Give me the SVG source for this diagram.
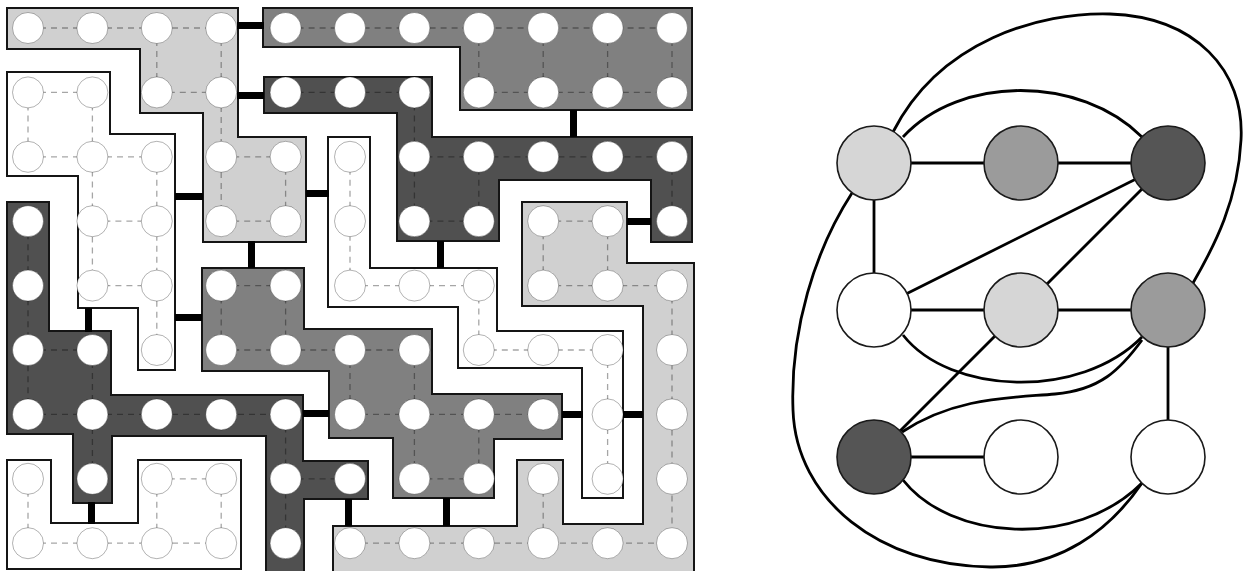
<svg xmlns="http://www.w3.org/2000/svg" width="1245" height="571" viewBox="0 0 1245 571">
<style>
.reg{stroke:#151515;stroke-width:2;stroke-linejoin:miter}
.L{fill:#d0d0d0}.M{fill:#808080}.D{fill:#505050}.W{fill:#ffffff}
.dash{fill:none;stroke:#000;stroke-opacity:.35;stroke-width:1.3;stroke-dasharray:6 5;stroke-dashoffset:-1}
.dot{fill:#fff;stroke:#000;stroke-opacity:.3;stroke-width:1}
.bar{fill:#000}
.edge{fill:none;stroke:#000;stroke-width:2.8}
.gn{stroke:#1a1a1a;stroke-width:1.6}
.gL{fill:#d6d6d6}.gM{fill:#9b9b9b}.gD{fill:#555555}.gW{fill:#ffffff}
</style>
<defs><circle id="c" r="15.5"/></defs>
<rect width="1245" height="571" fill="#fff"/>

<g id="region-L1">
<polygon class="reg L" points="7,8 238,8 238,137 306,137 306,242 203,242 203,113 140,113 140,49 7,49"/>
<path class="dash" d="M28,28H221.2M156.8,92.4H221.2M221.2,156.8H285.6M221.2,221.2H285.6M156.8,28V92.4M221.2,28V221.2M285.6,156.8V221.2"/>
<g class="dot"><use href="#c" x="28" y="28"/><use href="#c" x="92.4" y="28"/><use href="#c" x="156.8" y="28"/><use href="#c" x="221.2" y="28"/><use href="#c" x="156.8" y="92.4"/><use href="#c" x="221.2" y="92.4"/><use href="#c" x="221.2" y="156.8"/><use href="#c" x="285.6" y="156.8"/><use href="#c" x="221.2" y="221.2"/><use href="#c" x="285.6" y="221.2"/></g>
</g>

<g id="region-M1">
<polygon class="reg M" points="263,8 692,8 692,110 460,110 460,47 263,47"/>
<path class="dash" d="M285.6,28H672M478.8,92.4H672M478.8,28V92.4M543.2,28V92.4M607.6,28V92.4M672,28V92.4"/>
<g class="dot"><use href="#c" x="285.6" y="28"/><use href="#c" x="350" y="28"/><use href="#c" x="414.4" y="28"/><use href="#c" x="478.8" y="28"/><use href="#c" x="543.2" y="28"/><use href="#c" x="607.6" y="28"/><use href="#c" x="672" y="28"/><use href="#c" x="478.8" y="92.4"/><use href="#c" x="543.2" y="92.4"/><use href="#c" x="607.6" y="92.4"/><use href="#c" x="672" y="92.4"/></g>
</g>

<g id="region-D1">
<polygon class="reg D" points="264,77 432,77 432,137 692,137 692,242 651,242 651,180 499,180 499,241 397,241 397,113 264,113"/>
<path class="dash" d="M285.6,92.4H414.4M414.4,156.8H672M414.4,221.2H478.8M414.4,92.4V221.2M478.8,156.8V221.2M672,156.8V221.2"/>
<g class="dot"><use href="#c" x="285.6" y="92.4"/><use href="#c" x="350" y="92.4"/><use href="#c" x="414.4" y="92.4"/><use href="#c" x="414.4" y="156.8"/><use href="#c" x="478.8" y="156.8"/><use href="#c" x="543.2" y="156.8"/><use href="#c" x="607.6" y="156.8"/><use href="#c" x="672" y="156.8"/><use href="#c" x="414.4" y="221.2"/><use href="#c" x="478.8" y="221.2"/><use href="#c" x="672" y="221.2"/></g>
</g>

<g id="region-W1">
<polygon class="reg W" points="7,72 110,72 110,134 175,134 175,370 138,370 138,308 78,308 78,176 7,176"/>
<path class="dash" d="M28,92.4H92.4M28,156.8H156.8M92.4,221.2H156.8M92.4,285.6H156.8M28,92.4V156.8M92.4,92.4V285.6M156.8,156.8V350"/>
<g class="dot"><use href="#c" x="28" y="92.4"/><use href="#c" x="92.4" y="92.4"/><use href="#c" x="28" y="156.8"/><use href="#c" x="92.4" y="156.8"/><use href="#c" x="156.8" y="156.8"/><use href="#c" x="92.4" y="221.2"/><use href="#c" x="156.8" y="221.2"/><use href="#c" x="92.4" y="285.6"/><use href="#c" x="156.8" y="285.6"/><use href="#c" x="156.8" y="350"/></g>
</g>

<g id="region-W3">
<polygon class="reg W" points="328,137 370,137 370,268 497,268 497,331 623,331 623,498 582,498 582,368 458,368 458,307 328,307"/>
<path class="dash" d="M350,285.6H478.8M478.8,350H607.6M350,156.8V285.6M478.8,285.6V350M607.6,350V478.8"/>
<g class="dot"><use href="#c" x="350" y="156.8"/><use href="#c" x="350" y="221.2"/><use href="#c" x="350" y="285.6"/><use href="#c" x="414.4" y="285.6"/><use href="#c" x="478.8" y="285.6"/><use href="#c" x="478.8" y="350"/><use href="#c" x="543.2" y="350"/><use href="#c" x="607.6" y="350"/><use href="#c" x="607.6" y="414.4"/><use href="#c" x="607.6" y="478.8"/></g>
</g>

<g id="region-L2">
<polygon class="reg L" points="522,202 627,202 627,263 694,263 694,574 333,574 333,526 517,526 517,460 563,460 563,524 643,524 643,306 522,306"/>
<path class="dash" d="M543.2,221.2H607.6M543.2,285.6H672M350,543.2H672M543.2,221.2V285.6M607.6,221.2V285.6M543.2,478.8V543.2M672,285.6V543.2"/>
<g class="dot"><use href="#c" x="543.2" y="221.2"/><use href="#c" x="607.6" y="221.2"/><use href="#c" x="543.2" y="285.6"/><use href="#c" x="607.6" y="285.6"/><use href="#c" x="672" y="285.6"/><use href="#c" x="672" y="350"/><use href="#c" x="672" y="414.4"/><use href="#c" x="543.2" y="478.8"/><use href="#c" x="672" y="478.8"/><use href="#c" x="350" y="543.2"/><use href="#c" x="414.4" y="543.2"/><use href="#c" x="478.8" y="543.2"/><use href="#c" x="543.2" y="543.2"/><use href="#c" x="607.6" y="543.2"/><use href="#c" x="672" y="543.2"/></g>
</g>

<g id="region-M2">
<polygon class="reg M" points="202,268 304,268 304,329 432,329 432,394 562,394 562,439 494,439 494,498 393,498 393,438 329,438 329,371 202,371"/>
<path class="dash" d="M221.2,285.6H285.6M221.2,350H414.4M350,414.4H543.2M414.4,478.8H478.8M221.2,285.6V350M285.6,285.6V350M350,350V414.4M414.4,350V478.8M478.8,414.4V478.8"/>
<g class="dot"><use href="#c" x="221.2" y="285.6"/><use href="#c" x="285.6" y="285.6"/><use href="#c" x="221.2" y="350"/><use href="#c" x="285.6" y="350"/><use href="#c" x="350" y="350"/><use href="#c" x="414.4" y="350"/><use href="#c" x="350" y="414.4"/><use href="#c" x="414.4" y="414.4"/><use href="#c" x="478.8" y="414.4"/><use href="#c" x="543.2" y="414.4"/><use href="#c" x="414.4" y="478.8"/><use href="#c" x="478.8" y="478.8"/></g>
</g>

<g id="region-D2">
<polygon class="reg D" points="7,202 49,202 49,331 111,331 111,395 303,395 303,461 368,461 368,499 304,499 304,574 266,574 266,436 112,436 112,503 73,503 73,434 7,434"/>
<path class="dash" d="M28,350H92.4M28,414.4H285.6M285.6,478.8H350M28,221.2V414.4M92.4,350V478.8M285.6,414.4V543.2"/>
<g class="dot"><use href="#c" x="28" y="221.2"/><use href="#c" x="28" y="285.6"/><use href="#c" x="28" y="350"/><use href="#c" x="92.4" y="350"/><use href="#c" x="28" y="414.4"/><use href="#c" x="92.4" y="414.4"/><use href="#c" x="156.8" y="414.4"/><use href="#c" x="221.2" y="414.4"/><use href="#c" x="285.6" y="414.4"/><use href="#c" x="92.4" y="478.8"/><use href="#c" x="285.6" y="478.8"/><use href="#c" x="350" y="478.8"/><use href="#c" x="285.6" y="543.2"/></g>
</g>

<g id="region-W2">
<polygon class="reg W" points="7,460 51,460 51,523 138,523 138,460 241,460 241,569 7,569"/>
<path class="dash" d="M156.8,478.8H221.2M28,543.2H221.2M28,478.8V543.2M156.8,478.8V543.2M221.2,478.8V543.2"/>
<g class="dot"><use href="#c" x="28" y="478.8"/><use href="#c" x="156.8" y="478.8"/><use href="#c" x="221.2" y="478.8"/><use href="#c" x="28" y="543.2"/><use href="#c" x="92.4" y="543.2"/><use href="#c" x="156.8" y="543.2"/><use href="#c" x="221.2" y="543.2"/></g>
</g>

<g id="connectors">
<g class="bar">
<rect x="237" y="22" width="27" height="7"/>
<rect x="237" y="92" width="27" height="7"/>
<rect x="175" y="193" width="28" height="7"/>
<rect x="570" y="110" width="7" height="27"/>
<rect x="306" y="190" width="23" height="7"/>
<rect x="248" y="241" width="7" height="27"/>
<rect x="437" y="241" width="7" height="27"/>
<rect x="627" y="218" width="24" height="7"/>
<rect x="85" y="308" width="7" height="24"/>
<rect x="175" y="314" width="27" height="7"/>
<rect x="303" y="410" width="26" height="7"/>
<rect x="345" y="499" width="7" height="27"/>
<rect x="443" y="498" width="7" height="28"/>
<rect x="562" y="411" width="21" height="7"/>
<rect x="623" y="411" width="20" height="7"/>
<rect x="88" y="502" width="7" height="22"/>
</g>
<g class="edge">
<path d="M874,163L1021,163"/>
<path d="M1021,163L1168,163"/>
<path d="M874,163L874,310"/>
<path d="M903,137C960,75 1080,75 1142,137"/>
<path d="M893,132C940,40 1040,12 1110,14C1195,17 1245,70 1241,140C1238,200 1215,245 1193,283"/>
<path d="M852,193C815,250 790,330 793,410C796,500 880,566 990,567C1060,568 1110,530 1142,483"/>
<path d="M1168,163L874,310"/>
<path d="M1168,163L1021,310"/>
<path d="M874,310L1021,310"/>
<path d="M1021,310L1168,310"/>
<path d="M903,335C950,395 1080,400 1142,337"/>
<path d="M1021,310L874,457"/>
<path d="M902,432C955,397 1010,398 1055,394C1100,390 1120,370 1142,340"/>
<path d="M1168,310L1168,457"/>
<path d="M874,457L1021,457"/>
<path d="M903,480C950,540 1075,550 1142,483"/>
</g>
</g>

<g id="n-TL"><circle class="gn gL" cx="874" cy="163" r="37"/></g>
<g id="n-TM"><circle class="gn gM" cx="1021" cy="163" r="37"/></g>
<g id="n-TR"><circle class="gn gD" cx="1168" cy="163" r="37"/></g>
<g id="n-ML"><circle class="gn gW" cx="874" cy="310" r="37"/></g>
<g id="n-MC"><circle class="gn gL" cx="1021" cy="310" r="37"/></g>
<g id="n-MR"><circle class="gn gM" cx="1168" cy="310" r="37"/></g>
<g id="n-BL"><circle class="gn gD" cx="874" cy="457" r="37"/></g>
<g id="n-BM"><circle class="gn gW" cx="1021" cy="457" r="37"/></g>
<g id="n-BR"><circle class="gn gW" cx="1168" cy="457" r="37"/></g>
</svg>
